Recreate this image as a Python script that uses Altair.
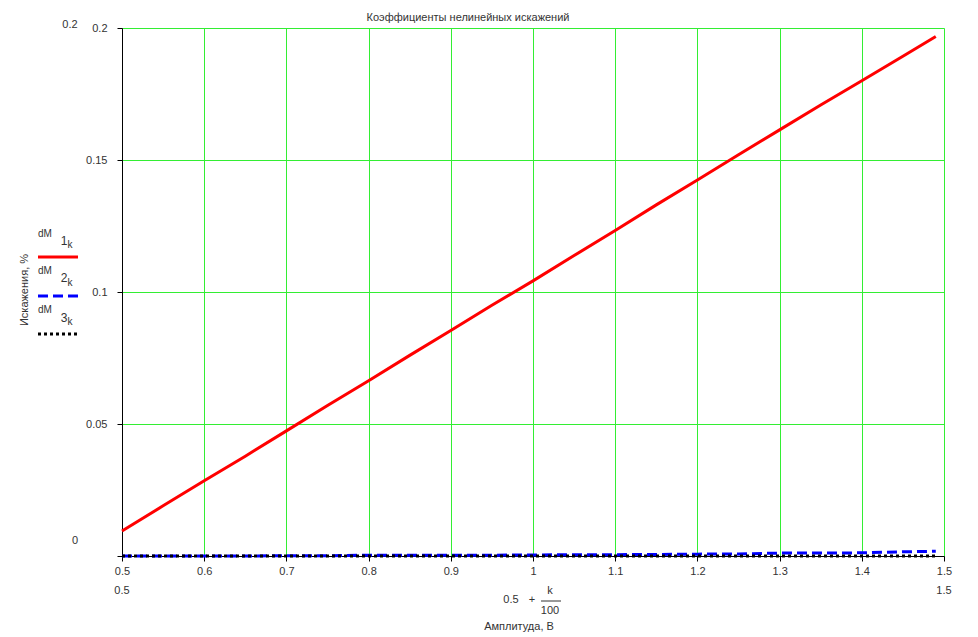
import altair as alt
import pandas as pd

# ---- data ----
amp = [0.50, 0.55, 0.60, 0.65, 0.70, 0.75, 0.80, 0.85, 0.90, 0.95, 1.00,
       1.05, 1.10, 1.15, 1.20, 1.25, 1.30, 1.35, 1.40, 1.45, 1.49]
dM1 = [0.0095, 0.0190, 0.0285, 0.0378, 0.0474, 0.0570, 0.0664, 0.0760, 0.0854, 0.0950, 0.1042,
       0.1138, 0.1233, 0.1330, 0.1424, 0.1520, 0.1614, 0.1708, 0.1800, 0.1893, 0.1968]
dM2 = [0.0000, 0.0000, 0.0000, 0.0000, 0.0001, 0.0001, 0.0003, 0.0003, 0.0003, 0.0003, 0.0004,
       0.0005, 0.0005, 0.0006, 0.0007, 0.0008, 0.0011, 0.0011, 0.0012, 0.0016, 0.0018]
dM3 = [0.0000, 0.0000, 0.0000, 0.0000, 0.0000, 0.0000, 0.0000, 0.0000, 0.0000, 0.0000, 0.0000,
       0.0000, 0.0000, 0.0000, 0.0000, 0.0000, 0.0000, 0.0000, 0.0000, 0.0000, 0.0000]
x_ticks = [0.5, 0.6, 0.7, 0.8, 0.9, 1.0, 1.1, 1.2, 1.3, 1.4, 1.5]
y_ticks = [0, 0.05, 0.1, 0.15, 0.2]
title_text = "Коэффициенты нелинейных искажений"
x_title = "Амплитуда, В"
y_title = "Искажения, %"

FONT = "Liberation Sans Narrow, Liberation Sans, Arial, sans-serif"
GRID = "#33ee33"
TXT = "#333333"
W, H = 822, 528

df1 = pd.DataFrame({"x": amp, "y": dM1})
df2 = pd.DataFrame({"x": amp, "y": dM2})
df3 = pd.DataFrame({"x": amp, "y": dM3})

xs = alt.Scale(domain=[0.5, 1.5], nice=False, zero=False)
ys = alt.Scale(domain=[0, 0.2], nice=False, zero=False)

xaxis = alt.Axis(values=x_ticks, format=".2~f", title=None, grid=True, gridColor=GRID,
                 gridWidth=1, gridOpacity=1, domainColor="black", tickColor="black",
                 tickSize=5, labelFont=FONT, labelFontSize=11, labelColor=TXT,
                 labelPadding=4, labelFlush=False)
yaxis = alt.Axis(values=y_ticks, title=None, grid=True, gridColor=GRID, gridWidth=1,
                 gridOpacity=1, domainColor="black", tickColor="black", tickSize=5,
                 labelFont=FONT, labelFontSize=11, labelColor=TXT, labelPadding=10,
                 labelFlush=False,
                 labelExpr="datum.value == 0 ? '' : format(datum.value, '~g')")

red = alt.Chart(df1).mark_line(color="#ff0000", strokeWidth=3, clip=False).encode(
    x=alt.X("x:Q", scale=xs, axis=xaxis), y=alt.Y("y:Q", scale=ys, axis=yaxis))
blue = alt.Chart(df2).mark_line(color="#0000ff", strokeWidth=3, strokeDash=[10, 5],
                                clip=False).encode(
    x=alt.X("x:Q", scale=xs), y=alt.Y("y:Q", scale=ys))
black = alt.Chart(df3).mark_line(color="#000000", strokeWidth=3, strokeDash=[3, 3],
                                 clip=False).encode(
    x=alt.X("x:Q", scale=xs), y=alt.Y("y:Q", scale=ys))

one = pd.DataFrame({"a": [0]})


def txt(t, x, y, size=11, angle=0, align="center", baseline="middle"):
    return alt.Chart(one).mark_text(text=t, font=FONT, fontSize=size, color=TXT,
                                    angle=angle, align=align, baseline=baseline).encode(
        x=alt.value(x), y=alt.value(y))


def rule(x1, x2, y, color, dash=None, width=3):
    kw = dict(color=color, strokeWidth=width)
    if dash:
        kw["strokeDash"] = dash
    return alt.Chart(one).mark_rule(**kw).encode(
        x=alt.value(x1), x2=alt.value(x2), y=alt.value(y))


ox, oy = 122, 28  # page position of plot origin (top-left)
ann = [
    txt(title_text, 468 - ox, 18 - oy, size=11),
    txt("0.2", 70 - ox, 25 - oy),
    txt("0", 75 - ox, 541 - oy),
    txt("0.5", 122 - ox, 591 - oy),
    txt("1.5", 944 - ox, 591 - oy),
    txt("0.5", 511 - ox, 600 - oy),
    txt("+", 532 - ox, 600 - oy),
    txt("k", 550 - ox, 591 - oy),
    txt("100", 550 - ox, 611 - oy),
    rule(541 - ox, 561 - ox, 601 - oy, "#333333", width=1),
    txt(x_title, 519 - ox, 627 - oy, size=11),
    txt(y_title, 25 - ox, 290 - oy, angle=270),
    # legend
    txt("dM", 45 - ox, 234 - oy, size=10),
    txt("1", 64 - ox, 241 - oy, size=12),
    txt("k", 70 - ox, 245 - oy, size=10),
    rule(38 - ox, 78 - ox, 257 - oy, "#ff0000"),
    txt("dM", 45 - ox, 271 - oy, size=10),
    txt("2", 64 - ox, 278 - oy, size=12),
    txt("k", 70 - ox, 283 - oy, size=10),
    rule(38 - ox, 78 - ox, 296 - oy, "#0000ff", dash=[10, 5]),
    txt("dM", 45 - ox, 310 - oy, size=10),
    txt("3", 64 - ox, 318 - oy, size=12),
    txt("k", 70 - ox, 322 - oy, size=10),
    rule(38 - ox, 78 - ox, 334 - oy, "#000000", dash=[3, 3]),
]

chart = alt.layer(red, blue, black, *ann).properties(
    width=W, height=H, autosize="none",
    padding={"left": 114, "top": 20, "right": 26, "bottom": 78},
).configure_view(stroke=None).configure(background="white")

chart.save("out.html", embed_options={"renderer": "svg", "actions": False})
